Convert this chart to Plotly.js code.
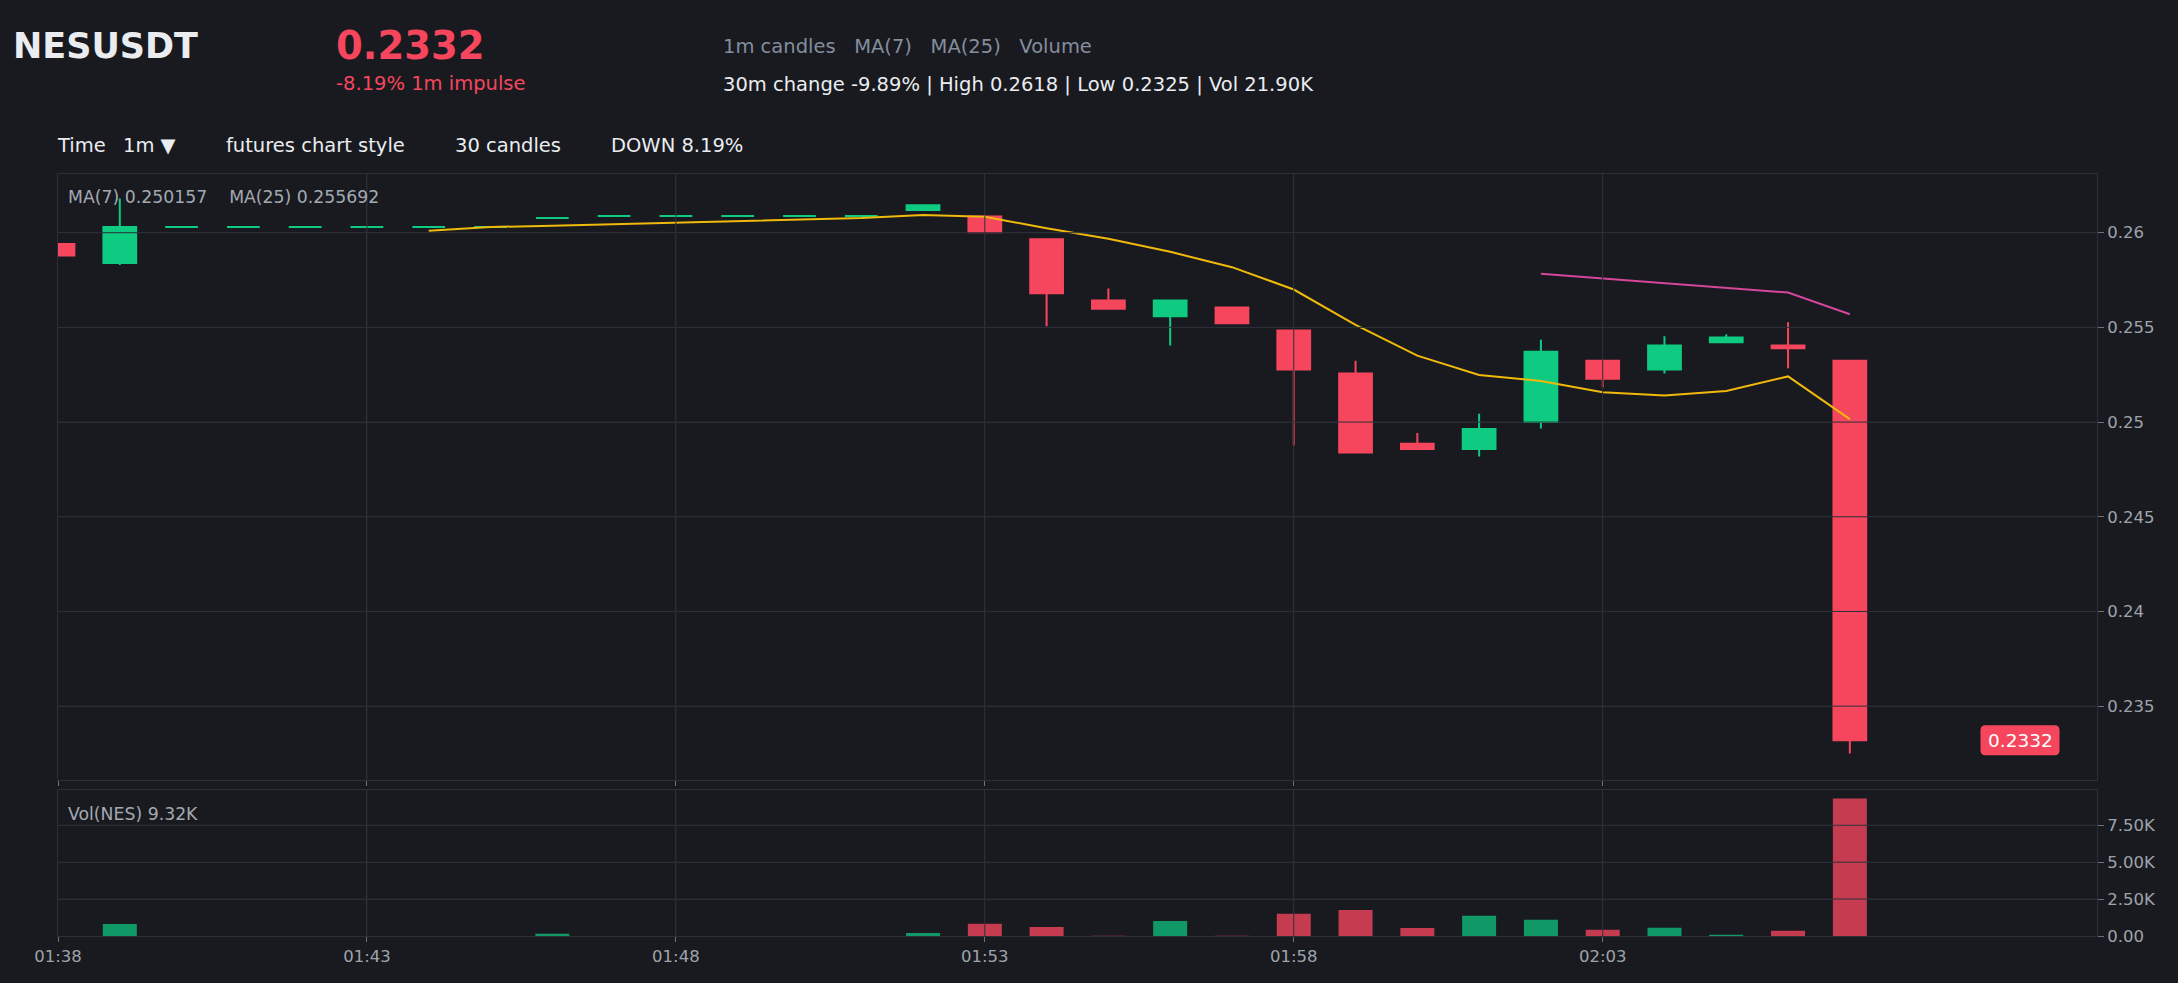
<!DOCTYPE html>
<html>
<head>
<meta charset="utf-8">
<script src="https://cdn.plot.ly/plotly-3.0.1.min.js"></script>
<style>
  html, body { margin: 0; padding: 0; background: #181a20; }
  #chart { width: 2178px; height: 983px; }
</style>
</head>
<body>
<div id="chart"></div>
<script>
// ---------------- data ----------------
const dayPrefix = '2024-01-01 ';
const times = ['01:38','01:39','01:40','01:41','01:42','01:43','01:44','01:45','01:46','01:47',
               '01:48','01:49','01:50','01:51','01:52','01:53','01:54','01:55','01:56','01:57',
               '01:58','01:59','02:00','02:01','02:02','02:03','02:04','02:05','02:06','02:07'];
const openP  = [0.25940,0.25840,0.26030,0.26030,0.26030,0.26030,0.26030,0.26030,0.26077,0.26088,
                0.26088,0.26088,0.26088,0.26088,0.26120,0.26085,0.25965,0.25642,0.25559,0.25605,
                0.25483,0.25256,0.24885,0.24858,0.25000,0.25324,0.25277,0.25421,0.25404,0.25324];
const highP  = [0.25940,0.26180,0.26030,0.26030,0.26030,0.26030,0.26030,0.26030,0.26077,0.26088,
                0.26088,0.26088,0.26088,0.26088,0.26145,0.26095,0.25965,0.25705,0.25642,0.25605,
                0.25483,0.25324,0.24943,0.25044,0.25435,0.25324,0.25453,0.25464,0.25527,0.25324];
const lowP   = [0.25880,0.25830,0.26030,0.26030,0.26030,0.26030,0.26030,0.26030,0.26077,0.26088,
                0.26088,0.26088,0.26088,0.26088,0.26120,0.26003,0.25506,0.25599,0.25405,0.25522,
                0.24876,0.24839,0.24858,0.24818,0.24966,0.25183,0.25257,0.25421,0.25284,0.23250];
const closeP = [0.25880,0.26030,0.26030,0.26030,0.26030,0.26030,0.26030,0.26030,0.26077,0.26088,
                0.26088,0.26088,0.26088,0.26088,0.26145,0.26003,0.25680,0.25599,0.25642,0.25522,
                0.25278,0.24839,0.24858,0.24964,0.25372,0.25229,0.25404,0.25446,0.25390,0.23320];
const volume = [0,813,0,0,0,0,0,0,158,0,
                0,0,0,0,203,836,610,20,1016,20,
                1513,1762,542,1377,1107,429,565,90,361,9320];
const ma7  = [null,null,null,null,null,null,0.26010,0.26030,0.26037,0.26045,
              0.26053,0.26061,0.26070,0.26078,0.26094,0.26084,0.26024,0.25968,0.25899,0.25818,
              0.25700,0.25513,0.25351,0.25249,0.25217,0.25157,0.25141,0.25164,0.25241,0.250157];
const ma25 = [null,null,null,null,null,null,null,null,null,null,
              null,null,null,null,null,null,null,null,null,null,
              null,null,null,null,0.25783,0.25758,0.25735,0.25710,0.25684,0.255692];
const xTickLabels = ['01:38','01:43','01:48','01:53','01:58','02:03'];
const xRangeLabels = ['01:38','02:11'];
const priceTicks = [0.235,0.24,0.245,0.25,0.255,0.26];
const priceRange = [0.2311,0.2631];
const volTicks = [0,2500,5000,7500];
const volTickText = ['0.00','2.50K','5.00K','7.50K'];
const volRange = [0,9890];
const lastPrice = '0.2332';
const lastPriceValue = 0.2332;

// ---------------- styling ----------------
const BG = '#181a20';
const GRID = '#2b2f36';
const UP = '#0ecb81';
const DOWN = '#f6465d';
const UPVOL = 'rgba(14,203,129,0.72)';
const DOWNVOL = 'rgba(246,70,93,0.78)';
const TXT = '#eaecef';
const GRAY = '#848e9c';
const TICK = '#9ea4ac';
const FONT = 'DejaVu Sans, sans-serif';

const X = times.map(t => dayPrefix + t);
const upIdx = [], dnIdx = [];
closeP.forEach((c, i) => (c >= openP[i] ? upIdx : dnIdx).push(i));
const pick = (arr, idx) => idx.map(i => arr[i]);

function candle(idx, color) {
  return {
    type: 'candlestick', xaxis: 'x', yaxis: 'y',
    x: pick(X, idx), open: pick(openP, idx), high: pick(highP, idx),
    low: pick(lowP, idx), close: pick(closeP, idx),
    increasing: {line: {color: color, width: 2}, fillcolor: color},
    decreasing: {line: {color: color, width: 2}, fillcolor: color},
    whiskerwidth: 0, hoverinfo: 'skip', showlegend: false
  };
}

const traces = [
  candle(upIdx, UP),
  candle(dnIdx, DOWN),
  {type: 'scatter', mode: 'lines', x: X, y: ma7, xaxis: 'x', yaxis: 'y',
   line: {color: '#f0b90b', width: 2}, hoverinfo: 'skip', showlegend: false},
  {type: 'scatter', mode: 'lines', x: X, y: ma25, xaxis: 'x', yaxis: 'y',
   line: {color: '#d6469a', width: 2}, hoverinfo: 'skip', showlegend: false},
  {type: 'bar', x: X, y: volume, xaxis: 'x2', yaxis: 'y2',
   marker: {color: closeP.map((c, i) => c >= openP[i] ? UPVOL : DOWNVOL), line: {width: 0}},
   hoverinfo: 'skip', showlegend: false}
];

const xTickVals = xTickLabels.map(t => dayPrefix + t);
const xRange = xRangeLabels.map(t => dayPrefix + t);

const W = 2178, H = 983, ML = 58, MR = 81, MT = 174, MB = 47;
const pw = W - ML - MR, ph = H - MT - MB;
const px = v => (v - ML) / pw;
const py = v => (H - MB - v) / ph;

const shapes = [];
priceTicks.forEach(v => shapes.push({type: 'line', layer: 'above', xref: 'x domain', x0: 0, x1: 1,
  yref: 'y', y0: v, y1: v, line: {color: GRID, width: 1}}));
volTicks.slice(1).forEach(v => shapes.push({type: 'line', layer: 'above', xref: 'x2 domain', x0: 0, x1: 1,
  yref: 'y2', y0: v, y1: v, line: {color: GRID, width: 1}}));
xTickVals.slice(1).forEach(v => {
  shapes.push({type: 'line', layer: 'above', xref: 'x', x0: v, x1: v, yref: 'y domain', y0: 0, y1: 1,
    line: {color: GRID, width: 1}});
  shapes.push({type: 'line', layer: 'above', xref: 'x2', x0: v, x1: v, yref: 'y2 domain', y0: 0, y1: 1,
    line: {color: GRID, width: 1}});
});
// rounded badge behind the last-price label
shapes.push({type: 'path', layer: 'above', xref: 'paper', yref: 'y',
  xsizemode: 'pixel', ysizemode: 'pixel', xanchor: px(2020), yanchor: lastPriceValue,
  path: 'M -34.5,-15 L 34.5,-15 Q 39.5,-15 39.5,-10 L 39.5,10 Q 39.5,15 34.5,15 L -34.5,15 ' +
        'Q -39.5,15 -39.5,10 L -39.5,-10 Q -39.5,-15 -34.5,-15 Z',
  fillcolor: DOWN, line: {width: 0}});

function note(text, x, y, size, color, bold) {
  return {text: bold ? '<b>' + text + '</b>' : text, xref: 'paper', yref: 'paper', x: px(x - 4), y: py(y),
    xanchor: 'left', yanchor: 'middle', showarrow: false,
    font: {family: FONT, size: size, color: color}};
}
const sp = n => '\u00a0'.repeat(n);

const annotations = [
  note('NESUSDT', 15, 46, 35, TXT, true),
  note(lastPrice, 338, 45, 38.5, DOWN, true),
  note('-8.19% 1m impulse', 338, 83.5, 19.5, DOWN, false),
  note('1m candles' + sp(3) + 'MA(7)' + sp(3) + 'MA(25)' + sp(3) + 'Volume', 725, 46, 19.5, GRAY, false),
  note('30m change -9.89% | High 0.2618 | Low 0.2325 | Vol 21.90K', 725, 85, 19.5, TXT, false),
  note('Time', 59, 145, 19.5, TXT, false),
  note('1m ▼', 125, 145, 19.5, TXT, false),
  note('futures chart style', 228, 145, 19.5, TXT, false),
  note('30 candles', 457, 145, 19.5, TXT, false),
  note('DOWN 8.19%', 613, 145, 19.5, TXT, false),
  note('MA(7) 0.250157' + sp(4) + 'MA(25) 0.255692', 70, 197, 17.3, '#a3a9b1', false),
  note('Vol(NES) 9.32K', 70, 814, 17.3, '#a3a9b1', false),
  {text: lastPrice, xref: 'paper', x: px(2020), yref: 'y', y: lastPriceValue,
   xanchor: 'center', yanchor: 'middle', showarrow: false,
   font: {family: FONT, size: 18.5, color: '#ffffff'}}
];

const axisCommon = {
  showline: true, mirror: true, linecolor: GRID, linewidth: 1,
  gridcolor: GRID, gridwidth: 1, zeroline: false, fixedrange: true,
  ticks: 'outside', tickcolor: '#6b727c', ticklen: 6, tickwidth: 1,
  tickfont: {family: FONT, size: 16.5, color: TICK}
};

const layout = {
  width: W, height: H,
  margin: {l: ML, r: MR, t: MT, b: MB, pad: 0},
  paper_bgcolor: BG, plot_bgcolor: BG,
  showlegend: false, hovermode: false,
  boxmode: 'overlay', boxgap: 0.47, boxgroupgap: 0,
  bargap: 0.45,
  font: {family: FONT, color: TXT},
  xaxis: Object.assign({}, axisCommon, {type: 'date', range: xRange, anchor: 'y', domain: [0, 1],
    tickvals: xTickVals, ticktext: xTickLabels, showticklabels: false, ticklen: 5,
    rangeslider: {visible: false}}),
  xaxis2: Object.assign({}, axisCommon, {type: 'date', range: xRange, anchor: 'y2', domain: [0, 1],
    matches: 'x', tickvals: xTickVals, ticktext: xTickLabels, ticklen: 5}),
  yaxis: Object.assign({}, axisCommon, {side: 'right', range: priceRange, anchor: 'x',
    domain: [py(780), 1], tickvals: priceTicks, ticktext: priceTicks.map(String)}),
  yaxis2: Object.assign({}, axisCommon, {side: 'right', range: volRange, anchor: 'x2',
    domain: [0, py(790)], tickvals: volTicks, ticktext: volTickText}),
  shapes: shapes,
  annotations: annotations
};

Plotly.newPlot('chart', traces, layout, {staticPlot: true, displayModeBar: false});
</script>
</body>
</html>
